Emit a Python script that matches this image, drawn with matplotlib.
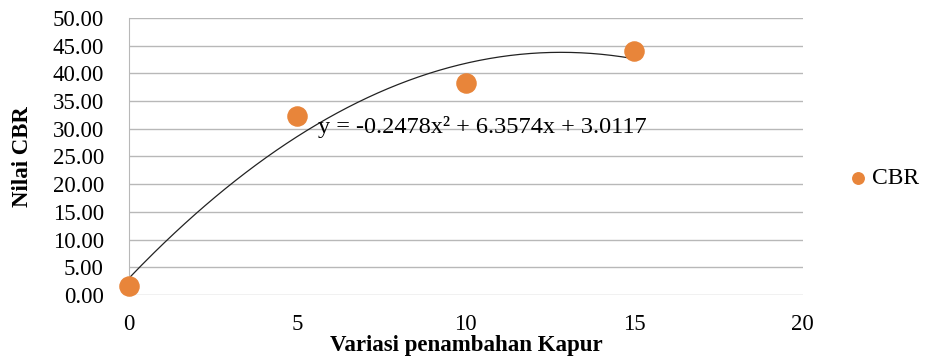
import numpy as np
from matplotlib import pyplot as plt

# data
kapur = [0, 5, 10, 15]
cbr = [1.6, 32.3, 38.3, 44.0]
# trendline coefficients as printed on the chart
coef = [-0.2478, 6.3574, 3.0117]
x_ticks = [0, 5, 10, 15, 20]
y_ticks = np.arange(0, 50.01, 5)

plt.rcParams['font.family'] = ['Liberation Serif', 'DejaVu Serif']

fig = plt.figure(figsize=(9.27, 3.58), dpi=100)
ax = fig.add_axes([0.139, 0.176, 0.727, 0.774])

orange = '#E8853A'
ax.scatter(kapur, cbr, s=190, color=orange, zorder=3, label='CBR', clip_on=False)

xt = np.linspace(kapur[0], kapur[-1], 200)
ax.plot(xt, np.polyval(coef, xt), color='#222222', lw=0.9, zorder=2)

ax.set_xlim(0, 20)
ax.set_ylim(0, 50)
ax.set_xticks(x_ticks)
ax.set_yticks(y_ticks)
ax.set_yticklabels([f'{v:.2f}' for v in y_ticks])
ax.tick_params(axis='y', length=0, pad=18, labelsize=16.5)
ax.tick_params(axis='x', length=0, pad=14, labelsize=16.5)
ax.grid(axis='y', color='#b8b8b8', lw=1)
ax.set_axisbelow(True)
for s in ['top', 'right', 'bottom']:
    ax.spines[s].set_visible(False)
ax.spines['left'].set_color('#b8b8b8')

ax.set_xlabel('Variasi penambahan Kapur', fontsize=16.5, fontweight='bold', labelpad=0)
ax.set_ylabel('Nilai CBR', fontsize=16.5, fontweight='bold', labelpad=14)

ax.text(5.6, 30.4, 'y = -0.2478x² + 6.3574x + 3.0117', fontsize=17.5,
        va='center', ha='left')

fig.legend(loc='center left', bbox_to_anchor=(846 / 927, 1 - 178 / 358),
           frameon=False, fontsize=17, handlelength=1.0, handletextpad=0.1,
           markerscale=0.6, borderaxespad=0, borderpad=0)

plt.savefig('out.png', dpi=100)
